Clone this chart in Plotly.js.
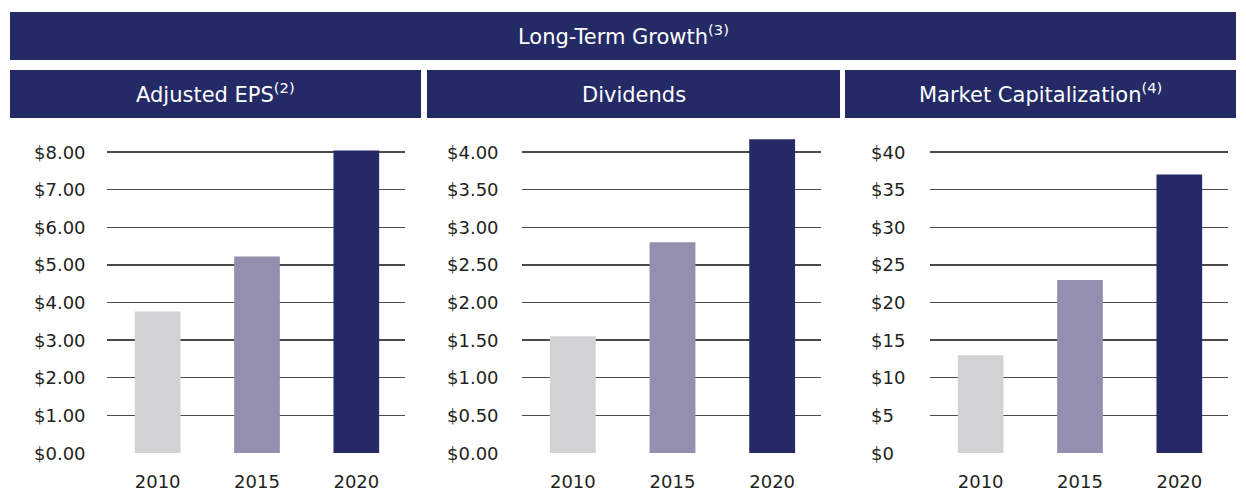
<!DOCTYPE html>
<html>
<head>
<meta charset="utf-8">
<script src="https://cdn.plot.ly/plotly-3.0.1.min.js"></script>
<style>
  html, body { margin: 0; padding: 0; background: #ffffff; }
  #chart { width: 1246px; height: 491px; }
</style>
</head>
<body>
<div id="chart"></div>
<script>
  // data
  const years = ["2010", "2015", "2020"];
  const epsValues = [3.76, 5.22, 8.04];
  const dividendValues = [1.55, 2.8, 4.17];
  const marketCapValues = [13.0, 23.0, 37.0];

  const epsTicks = [0, 1, 2, 3, 4, 5, 6, 7, 8];
  const dividendTicks = [0, 0.5, 1, 1.5, 2, 2.5, 3, 3.5, 4];
  const marketCapTicks = [0, 5, 10, 15, 20, 25, 30, 35, 40];

  const mainTitle = "Long-Term Growth<sup>(3)</sup>";
  const panelTitles = ["Adjusted EPS<sup>(2)</sup>", "Dividends", "Market Capitalization<sup>(4)</sup>"];

  const barColors = ["#d1d2d4", "#928faf", "#232a66"];
  const navy = "#232a66";
  const textColor = "#231f20";
  const font = "DejaVu Sans, sans-serif";

  const W = 1246, H = 491;
  const px = (v) => v / W;
  const py = (v) => 1 - v / H;

  // pixel geometry of the three panels
  const panels = [
    { x0: 10, x1: 421, gridL: 107, gridR: 405, labelX: 32, top: 8, ticks: epsTicks, values: epsValues, fmt: (v) => "$" + v.toFixed(2) },
    { x0: 427, x1: 840, gridL: 522, gridR: 821, labelX: 445, top: 4, ticks: dividendTicks, values: dividendValues, fmt: (v) => "$" + v.toFixed(2) },
    { x0: 845, x1: 1236, gridL: 930, gridR: 1228, labelX: 869, top: 40, ticks: marketCapTicks, values: marketCapValues, fmt: (v) => "$" + v },
  ];

  const zeroY = 453, topGridY = 152, plotTopY = 130;

  const traces = [];
  const shapes = [];
  const annotations = [];
  const layout = {
    width: W,
    height: H,
    margin: { l: 0, r: 0, t: 0, b: 0 },
    paper_bgcolor: "#ffffff",
    plot_bgcolor: "#ffffff",
    showlegend: false,
    hovermode: false,
    font: { family: font, color: textColor, size: 18 },
  };

  // top banner
  shapes.push({ type: "rect", xref: "paper", yref: "paper", x0: px(10), x1: px(1236), y0: py(60), y1: py(12), fillcolor: navy, line: { width: 0 }, layer: "below" });
  annotations.push({ xref: "paper", yref: "paper", x: px(623), y: py(35), text: mainTitle, showarrow: false, xanchor: "center", yanchor: "middle", font: { family: font, size: 21, color: "#ffffff" } });

  panels.forEach((p, i) => {
    const n = i === 0 ? "" : String(i + 1);
    const xa = "x" + n, ya = "y" + n;

    traces.push({
      type: "bar",
      x: years,
      y: p.values,
      xaxis: xa,
      yaxis: ya,
      width: 0.46,
      marker: { color: barColors, line: { width: 0 } },
    });

    const yMax = p.top * (zeroY - plotTopY) / (zeroY - topGridY);

    layout["xaxis" + n] = {
      domain: [px(p.gridL), px(p.gridR)],
      anchor: ya,
      type: "category",
      range: [-0.51, 2.49],
      showgrid: false,
      zeroline: false,
      showline: false,
      ticks: "outside",
      ticklen: 12,
      tickcolor: "rgba(0,0,0,0)",
      tickfont: { family: font, size: 18, color: textColor },
      fixedrange: true,
    };
    layout["yaxis" + n] = {
      domain: [py(zeroY), py(plotTopY)],
      anchor: xa,
      range: [0, yMax],
      tickmode: "array",
      tickvals: p.ticks,
      showticklabels: false,
      showgrid: true,
      gridcolor: "#4a4a4a",
      gridwidth: 1.3,
      zeroline: false,
      showline: false,
      ticks: "",
      fixedrange: true,
    };

    // panel header (titles with a superscript get a taller box, so plain ones sit a bit lower)
    shapes.push({ type: "rect", xref: "paper", yref: "paper", x0: px(p.x0), x1: px(p.x1), y0: py(118), y1: py(70), fillcolor: navy, line: { width: 0 }, layer: "below" });
    const titleY = panelTitles[i].includes("<sup>") ? 93 : 95;
    annotations.push({ xref: "paper", yref: "paper", x: px((p.x0 + p.x1) / 2), y: py(titleY), text: panelTitles[i], showarrow: false, xanchor: "center", yanchor: "middle", font: { family: font, size: 21, color: "#ffffff" } });

    // left-aligned y tick labels placed on the axis scale
    p.ticks.forEach((v) => {
      annotations.push({ xref: "paper", yref: ya, x: px(p.labelX), y: v, text: p.fmt(v), showarrow: false, xanchor: "left", yanchor: "middle", font: { family: font, size: 18, color: textColor } });
    });
  });

  layout.shapes = shapes;
  layout.annotations = annotations;

  Plotly.newPlot("chart", traces, layout, { displayModeBar: false, staticPlot: true });
</script>
</body>
</html>
